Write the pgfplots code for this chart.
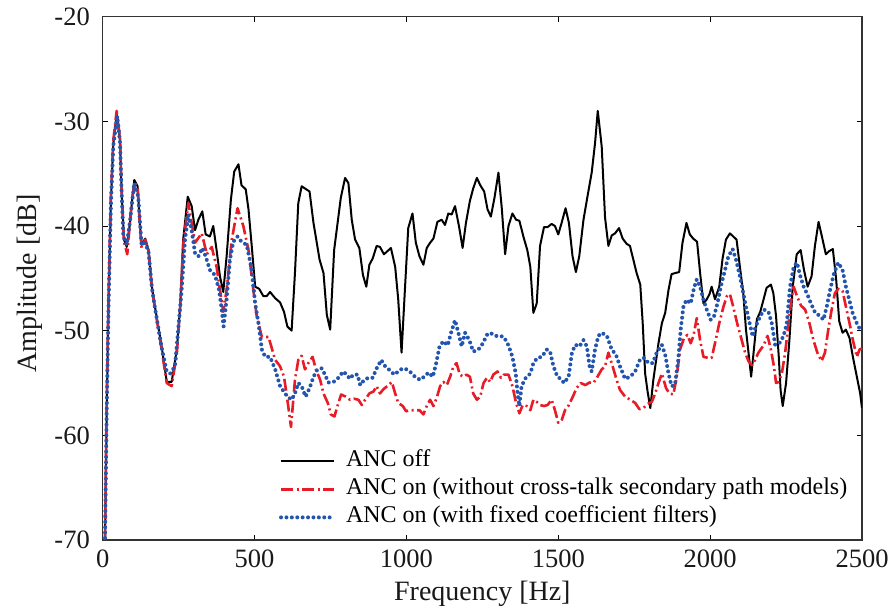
\documentclass[border=0pt]{standalone}
\usepackage{pgfplots}
\pgfplotsset{compat=1.18}
\usepackage{fontspec}
\setmainfont{Liberation Serif}
\definecolor{ancred}{RGB}{232,28,38}
\definecolor{ancblue}{RGB}{35,85,175}
\begin{document}
\begin{tikzpicture}
\begin{axis}[
  at={(0pt,0pt)}, anchor=south west,
  scale only axis, width=759.3pt, height=523.3pt,
  xmin=0, xmax=2500, ymin=-70, ymax=-20,
  xtick={0,500,1000,1500,2000,2500},
  ytick={-70,-60,-50,-40,-30,-20},
  xticklabels={0,500,1000,1500,2000,2500},
  yticklabels={-70,-60,-50,-40,-30,-20},
  tick align=inside, major tick length=5pt,
  tick style={black, line width=0.8pt},
  axis line style={line width=1.2pt, black!80},
  ticklabel style={font=\fontsize{26.5}{30}\selectfont, text=black!90},
  xticklabel style={inner sep=0pt, anchor=north, yshift=-10pt},
  yticklabel style={inner sep=0pt, anchor=east, xshift=-12.7pt},
  xlabel={Frequency [Hz]}, ylabel={Amplitude [dB]},
  label style={font=\fontsize{28}{32}\selectfont, text=black!90},
  xlabel style={at={(axis description cs:0.5,-0.1147)}, anchor=base, inner sep=0pt},
  ylabel style={at={(axis description cs:-0.0869,0.49)}, anchor=base, inner sep=0pt},
  legend style={draw=none, fill=none, at={(0.232,0.1745)}, anchor=north west,
    font=\fontsize{24}{28}\selectfont, inner sep=0pt, row sep=3pt,
    nodes={inner sep=1pt, text height=17pt, text depth=6pt}},
  legend cell align=left,
  legend image code/.code={\draw[#1] (0pt,0pt) -- (53pt,0pt); \path (62pt,0pt);},
]
\addplot[black, line width=2pt, line join=round] coordinates {
(5,-76) (13,-58) (19,-47.7) (27,-37.5) (35,-32.1) (46,-29.3) (57,-31.8) (62,-36.5) (70,-41.3) (79,-42.0)
(90,-39.7) (97,-37.5) (104,-35.6) (115,-36.2) (122,-39.7) (128,-41.8) (140,-41.2) (151,-42.3) (162,-45.8) (172,-47.7)
(183,-49.6) (194,-51.5) (211,-54.9) (227,-54.9) (244,-51.8) (255,-47.7) (265,-41.3) (280,-37.2) (293,-38.1) (304,-40.4)
(315,-39.4) (328,-38.6) (339,-40.8) (353,-41.0) (364,-40.0) (375,-42.3) (386,-44.8) (397,-46.3) (408,-42.9) (422,-37.5)
(433,-34.8) (447,-34.1) (457,-36.1) (471,-36.5) (480,-38.4) (491,-42.0) (502,-45.8) (515,-46.0) (529,-46.7) (540,-46.7)
(551,-46.3) (568,-46.9) (584,-47.3) (597,-48.2) (608,-49.6) (622,-50.0) (633,-44.5) (644,-37.8) (655,-36.2) (681,-36.7)
(694,-39.7) (714,-43.2) (727,-44.5) (738,-48.5) (749,-49.9) (762,-42.3) (784,-37.3) (798,-35.4) (809,-35.9) (820,-39.4)
(831,-41.3) (845,-42.1) (857,-44.7) (868,-45.8) (878,-43.7) (889,-43.1) (902,-41.9) (913,-42.0) (926,-42.7) (949,-42.1)
(963,-43.9) (973,-47.0) (984,-52.1) (995,-46.1) (1006,-40.2) (1020,-38.8) (1031,-41.6) (1043,-42.9) (1056,-43.7) (1067,-42.1)
(1078,-41.6) (1089,-41.2) (1102,-39.6) (1116,-39.4) (1127,-39.9) (1138,-38.8) (1149,-38.9) (1160,-38.1) (1173,-40.0) (1185,-42.1)
(1196,-39.7) (1209,-37.6) (1220,-36.4) (1232,-35.4) (1243,-36.1) (1256,-36.7) (1267,-38.4) (1278,-39.1) (1290,-37.3) (1303,-34.9)
(1314,-38.3) (1325,-42.7) (1336,-40.0) (1349,-38.8) (1361,-39.4) (1372,-39.5) (1385,-41.0) (1398,-42.3) (1408,-43.9) (1418,-48.3)
(1429,-47.4) (1440,-41.9) (1453,-40.1) (1465,-40.1) (1478,-39.8) (1489,-40.0) (1500,-40.8) (1511,-39.7) (1524,-38.3) (1535,-39.7)
(1547,-42.9) (1558,-44.4) (1569,-42.9) (1583,-39.4) (1596,-37.2) (1610,-34.9) (1621,-32.1) (1630,-29.0) (1643,-32.4) (1654,-39.2)
(1665,-41.9) (1676,-40.9) (1687,-40.7) (1700,-40.2) (1712,-41.2) (1725,-41.7) (1736,-41.9) (1747,-43.2) (1758,-44.5) (1770,-45.6)
(1778,-49.3) (1786,-54.1) (1794,-55.8) (1803,-57.4) (1813,-54.7) (1830,-51.2) (1841,-49.3) (1852,-48.3) (1863,-46.1) (1873,-44.6)
(1884,-44.5) (1898,-44.4) (1909,-41.6) (1922,-39.7) (1933,-40.8) (1944,-41.2) (1957,-41.5) (1967,-44.5) (1978,-47.4) (1989,-47.0)
(1998,-46.5) (2005,-45.8) (2016,-47.0) (2030,-45.8) (2041,-43.1) (2052,-41.3) (2065,-40.7) (2076,-41.0) (2087,-41.3) (2098,-43.9)
(2109,-46.4) (2118,-49.9) (2129,-52.8) (2135,-54.4) (2143,-52.1) (2154,-48.9) (2165,-48.2) (2176,-47.0) (2186,-45.9) (2200,-45.6)
(2208,-46.4) (2217,-48.6) (2226,-52.5) (2232,-55.7) (2239,-57.2) (2250,-55.0) (2261,-50.9) (2272,-45.8) (2285,-42.7) (2298,-42.3)
(2309,-44.2) (2321,-45.8) (2334,-44.8) (2345,-41.9) (2357,-39.6) (2368,-41.0) (2381,-42.7) (2392,-42.4) (2404,-42.2) (2415,-45.1)
(2425,-49.1) (2436,-50.2) (2447,-49.9) (2459,-50.7) (2470,-52.5) (2483,-54.4) (2494,-56.0) (2500,-57.4)
};
\addlegendentry{ANC off}
\addplot[ancred, line width=2.6pt, dash pattern=on 12pt off 3.5pt on 2pt off 3.5pt, line join=round] coordinates {
(5,-76) (13,-57) (19,-47) (27,-37) (35,-31.8) (46,-29.0) (57,-31.6) (62,-36.3) (70,-41.5) (81,-42.7)
(90,-39.5) (97,-37.3) (106,-35.9) (115,-36.3) (122,-39.7) (128,-42.1) (140,-41.3) (151,-42.4) (162,-46.0) (172,-47.9)
(183,-49.8) (194,-51.8) (211,-55.0) (227,-55.3) (244,-52.2) (255,-47.8) (265,-41.8) (282,-37.8) (304,-41.6) (326,-40.7)
(343,-42.7) (359,-42.0) (375,-43.9) (397,-48.2) (408,-46.1) (425,-41.3) (444,-38.3) (463,-40.0) (480,-42.3) (496,-46.1)
(507,-48.6) (524,-50.6) (546,-50.6) (568,-52.8) (584,-53.4) (597,-54.4) (608,-56.6) (620,-59.2) (633,-54.7) (644,-52.8)
(655,-52.4) (666,-53.7) (677,-53.1) (691,-52.5) (702,-53.7) (716,-54.7) (727,-56.0) (741,-56.9) (751,-58.0) (763,-58.2)
(773,-57.2) (785,-56.1) (800,-56.3) (814,-56.6) (827,-56.5) (842,-56.6) (853,-57.1) (864,-56.6) (878,-56.0) (892,-55.8)
(902,-55.3) (913,-56.0) (924,-55.6) (941,-55.2) (952,-54.9) (963,-56.0) (973,-56.9) (988,-57.2) (999,-57.7) (1012,-57.6)
(1028,-57.6) (1043,-57.6) (1056,-58.0) (1067,-57.2) (1078,-56.6) (1089,-57.2) (1100,-56.4) (1111,-55.3) (1122,-54.9) (1133,-55.2)
(1144,-54.4) (1155,-53.4) (1165,-53.1) (1176,-54.2) (1187,-54.4) (1198,-54.2) (1209,-54.4) (1220,-56.0) (1232,-56.6) (1243,-56.3)
(1254,-55.0) (1265,-54.5) (1276,-54.9) (1286,-54.2) (1300,-53.9) (1311,-54.5) (1321,-54.2) (1336,-54.2) (1349,-55.3) (1361,-56.9)
(1372,-57.9) (1383,-57.1) (1396,-57.2) (1408,-57.6) (1418,-56.6) (1429,-56.8) (1440,-57.1) (1453,-57.2) (1465,-57.1) (1478,-56.6)
(1489,-57.6) (1500,-58.8) (1512,-58.5) (1522,-57.6) (1533,-57.2) (1548,-56.3) (1560,-55.5) (1574,-55.0) (1589,-55.2) (1603,-54.95)
(1616,-55.0) (1627,-54.5) (1643,-53.7) (1654,-53.4) (1665,-52.1) (1679,-53.4) (1692,-54.7) (1703,-55.65) (1720,-56.3) (1737,-56.6)
(1753,-56.9) (1767,-57.5) (1780,-57.4) (1794,-57.0) (1808,-56.8) (1819,-56.0) (1830,-55.0) (1841,-54.1) (1855,-55.5) (1866,-56.0)
(1879,-56.1) (1890,-54.4) (1901,-51.8) (1914,-50.7) (1925,-50.4) (1936,-51.2) (1945,-50.5) (1956,-48.8) (1967,-50.9) (1978,-52.5)
(1994,-52.6) (2005,-52.6) (2016,-51.2) (2030,-49.3) (2044,-47.7) (2055,-46.7) (2065,-46.5) (2076,-47.7) (2089,-49.3) (2104,-50.9)
(2115,-52.1) (2126,-52.9) (2137,-53.3) (2148,-52.8) (2159,-52.1) (2176,-51.4) (2189,-50.5) (2200,-51.8) (2210,-53.4) (2217,-55.0)
(2225,-54.9) (2236,-54.1) (2247,-52.1) (2258,-49.3) (2269,-46.7) (2275,-45.8) (2286,-46.7) (2299,-47.6) (2313,-48.0) (2327,-49.3)
(2340,-50.9) (2353,-52.1) (2367,-52.9) (2378,-52.1) (2389,-49.9) (2400,-48.0) (2411,-46.4) (2422,-46.0) (2436,-46.2) (2447,-47.7)
(2459,-49.3) (2470,-50.9) (2483,-52.5) (2492,-51.8) (2500,-51.7)
};
\addlegendentry{ANC on (without cross-talk secondary path models)}
\addplot[ancblue, line width=4pt, dash pattern=on 0pt off 5.4pt, line cap=round, line join=round] coordinates {
(5,-76) (13,-58) (19,-48) (27,-38) (35,-32.3) (48,-29.5) (57,-32) (62,-36.5) (68,-41.0) (79,-41.8)
(90,-39.5) (104,-35.9) (117,-37.2) (128,-41.8) (140,-41.6) (151,-42.5) (162,-45.9) (172,-47.8) (183,-49.7) (194,-51.6)
(210,-53.8) (222,-54.1) (238,-53.4) (260,-46.1) (271,-41.3) (282,-38.9) (293,-40.4) (304,-42.6) (315,-42.9) (328,-42.1)
(339,-42.9) (353,-44.2) (370,-44.7) (383,-46.1) (392,-48.0) (398,-49.6) (408,-47.0) (419,-43.2) (430,-41.5) (444,-41.0)
(457,-41.5) (474,-41.8) (491,-44.2) (502,-47.4) (513,-49.3) (524,-51.8) (535,-52.5) (551,-52.5) (568,-53.7) (584,-55.3)
(596,-55.8) (608,-56.3) (622,-56.6) (633,-56.0) (644,-55.0) (655,-55.3) (668,-56.3) (681,-55.5) (694,-54.4) (707,-53.7)
(721,-53.6) (732,-54.2) (743,-54.95) (760,-54.9) (776,-54.5) (792,-53.9) (803,-54.2) (814,-54.6) (825,-54.2) (839,-54.2)
(848,-55.2) (861,-54.7) (875,-54.5) (889,-54.5) (902,-53.6) (917,-52.8) (930,-53.4) (946,-53.8) (960,-54.2) (973,-53.9)
(987,-53.6) (1001,-53.7) (1015,-54.0) (1028,-54.4) (1045,-54.7) (1058,-54.4) (1073,-54.0) (1087,-54.4) (1098,-53.1) (1109,-51.5)
(1122,-51.0) (1136,-51.4) (1147,-50.2) (1160,-49.0) (1171,-50.2) (1182,-51.5) (1193,-50.2) (1207,-50.9) (1220,-52.0) (1237,-51.8)
(1252,-51.2) (1265,-50.4) (1276,-50.2) (1292,-50.5) (1308,-50.5) (1321,-50.6) (1336,-51.4) (1349,-52.5) (1360,-54.1) (1366,-56.0)
(1372,-57.2) (1379,-55.3) (1393,-54.5) (1408,-54.1) (1418,-53.1) (1431,-52.6) (1446,-52.5) (1462,-51.8) (1473,-52.0) (1484,-53.4)
(1497,-54.4) (1508,-54.6) (1519,-55.0) (1534,-54.4) (1545,-52.1) (1556,-51.35) (1570,-51.5) (1583,-50.9) (1594,-51.5) (1603,-53.4)
(1610,-53.9) (1621,-51.8) (1632,-50.5) (1643,-50.2) (1660,-50.5) (1676,-51.8) (1690,-52.3) (1703,-53.4) (1720,-54.6) (1737,-54.4)
(1753,-53.9) (1770,-52.7) (1783,-52.6) (1797,-53.1) (1811,-53.1) (1824,-52.1) (1841,-51.35) (1852,-52.3) (1863,-54.1) (1873,-55.3)
(1884,-55.2) (1895,-52.8) (1903,-49.9) (1912,-47.7) (1922,-47.05) (1936,-47.4) (1947,-45.9) (1956,-45.1) (1967,-45.8) (1978,-47.05)
(1989,-48.0) (2002,-48.96) (2013,-48.6) (2024,-47.4) (2035,-45.8) (2049,-44.2) (2060,-42.9) (2074,-42.2) (2085,-43.2) (2098,-44.8)
(2109,-46.4) (2120,-48.0) (2131,-49.4) (2140,-50.55) (2150,-49.6) (2165,-48.6) (2178,-48.0) (2192,-48.2) (2203,-49.3) (2214,-51.35)
(2228,-51.2) (2241,-50.55) (2252,-49.4) (2263,-45.8) (2275,-43.9) (2286,-43.5) (2297,-44.8) (2308,-45.8) (2321,-46.6) (2332,-47.4)
(2346,-48.3) (2362,-48.6) (2373,-48.96) (2384,-47.7) (2395,-46.1) (2408,-44.5) (2422,-43.5) (2436,-44.2) (2447,-45.8) (2458,-47.05)
(2469,-48.3) (2483,-49.3) (2494,-49.9) (2500,-49.9)
};
\addlegendentry{ANC on (with fixed coefficient filters)}
\end{axis}
\pgfresetboundingbox
\path[use as bounding box] (-102.7pt,-72pt) rectangle (792.3pt,540pt);
\end{tikzpicture}
\end{document}
